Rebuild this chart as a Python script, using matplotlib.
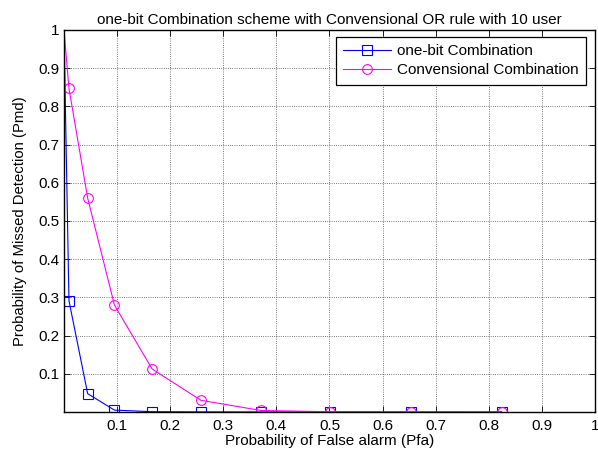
import matplotlib.pyplot as plt
import numpy as np

plt.rcParams['font.family'] = ['Liberation Sans', 'DejaVu Sans']

pfa = [0.0, 0.0094, 0.0446, 0.095, 0.166, 0.258, 0.371, 0.501, 0.653, 0.824]
pmd_onebit = [1.0, 0.291, 0.048, 0.005, 0.0008, 0.0003, 0.0001, 0.0, 0.0, 0.0]
pmd_conv = [1.0, 0.847, 0.560, 0.280, 0.1126, 0.0306, 0.004, 0.0006, 0.0001, 0.0]

ticks = np.round(np.arange(0.1, 1.01, 0.1), 1)
tick_labels = ['0.1', '0.2', '0.3', '0.4', '0.5', '0.6', '0.7', '0.8', '0.9', '1']

fig = plt.figure(figsize=(5.98, 4.54), dpi=100)
ax = fig.add_axes([0.107, 0.0925, 0.888, 0.8415])

ax.plot(pfa, pmd_onebit, color='blue', linewidth=0.8, marker='s', markersize=7,
        markerfacecolor='none', markeredgecolor='blue', markeredgewidth=0.8,
        markevery=list(range(1, len(pfa))), label='one-bit Combination')
ax.plot(pfa, pmd_conv, color='magenta', linewidth=0.8, marker='o', markersize=7,
        markerfacecolor='none', markeredgecolor='magenta', markeredgewidth=0.8,
        markevery=list(range(1, len(pfa))), label='Convensional Combination')

ax.set_xlim(0, 1)
ax.set_ylim(0, 1)
ax.set_xticks(ticks)
ax.set_xticklabels(tick_labels)
ax.set_yticks(ticks)
ax.set_yticklabels(tick_labels)
ax.tick_params(direction='in', top=True, right=True, labelsize=11, length=4, width=0.6)
ax.tick_params(axis='x', pad=5)
ax.grid(True, linestyle=':', color='black', linewidth=0.6, alpha=0.7)
for s in ax.spines.values():
    s.set_linewidth(1.0)

ax.set_title('one-bit Combination scheme with Convensional OR rule with 10 user',
             fontsize=11, pad=4)
ax.set_xlabel('Probability of False alarm (Pfa)', fontsize=11, labelpad=1)
ax.set_ylabel('Probability of Missed Detection (Pmd)', fontsize=10.7, labelpad=8)

leg = ax.legend(loc='upper right', bbox_to_anchor=(0.983, 0.982), fontsize=11,
                fancybox=False, framealpha=1, edgecolor='black', borderaxespad=0,
                handlelength=3.1, handletextpad=0.4, labelspacing=0.3,
                borderpad=0.5)
leg.get_frame().set_linewidth(0.9)

fig.savefig('out.png', dpi=100)
